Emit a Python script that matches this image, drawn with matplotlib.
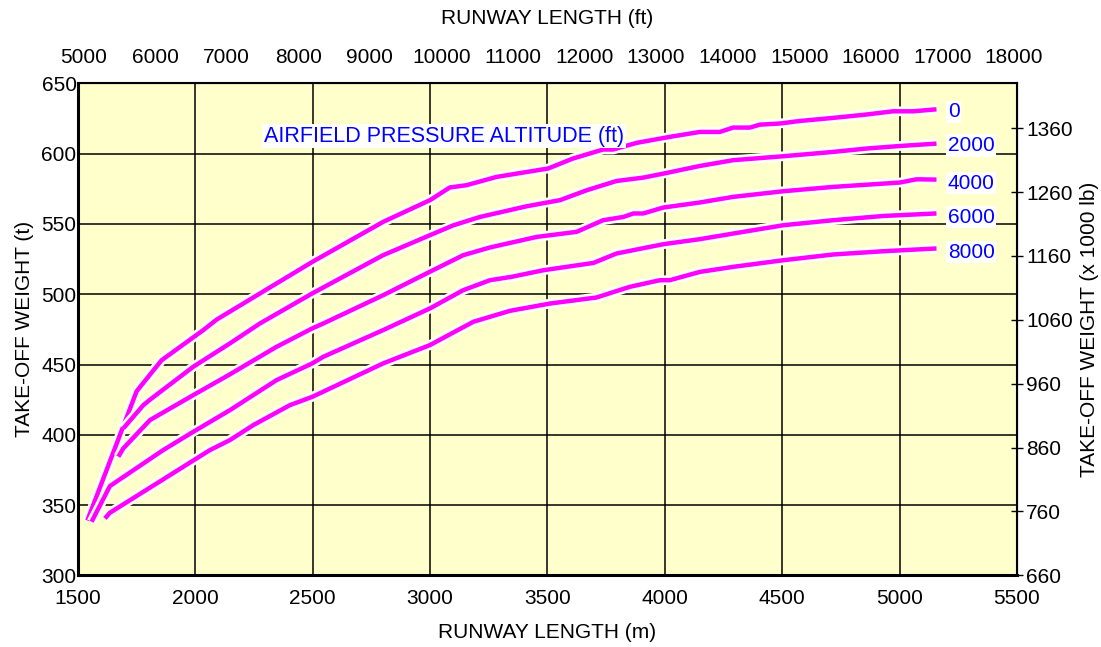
import matplotlib
matplotlib.use("Agg")
import matplotlib.pyplot as plt
import matplotlib.patheffects as pe

plt.rcParams['font.family'] = ['Liberation Sans', 'DejaVu Sans']

# airfield pressure altitude (ft) for each curve
altitudes = ["0", "2000", "4000", "6000", "8000"]

# runway length (m) / take-off weight (t)
len_0 = [1540, 1750, 1856, 2034, 2091, 2498, 2800, 3000, 3084, 3155, 3283, 3503, 3609,
         3737, 3780, 3879, 4021, 4149, 4234, 4291, 4362, 4405, 4490, 4575, 4717, 4859,
         4972, 5058, 5157]
wt_0 = [339, 431, 453, 474.5, 482, 523, 551.5, 567, 576, 577.6, 583.5, 589.5, 596.6,
        603, 603, 607.7, 612, 615.5, 615.5, 618.6, 618.6, 620.7, 621.5, 623.3, 625.5, 627.9,
        630.2, 630.2, 631.6]

len_2000 = [1693, 1778, 1807, 1991, 2147, 2275, 2498, 2800, 2999, 3098, 3212, 3411, 3554,
            3667, 3794, 3908, 4007, 4149, 4291, 4504, 4717, 4859, 5001, 5157]
wt_2000 = [404.5, 421, 425, 448.4, 465, 479.2, 500.6, 527.8, 542, 549, 555, 562.6, 567,
           574, 580.6, 583, 586.3, 591.3, 595.4, 598.2, 601.3, 603.7, 605.5, 607.2]

len_4000 = [1672, 1693, 1807, 1991, 2147, 2346, 2498, 2545, 2800, 2999, 3141, 3255, 3454,
            3624, 3737, 3823, 3866, 3908, 3993, 4149, 4291, 4504, 4717, 5001, 5072, 5157]
wt_4000 = [384.4, 390.3, 410.5, 428.2, 443, 462.6, 475.7, 479.2, 499.3, 516, 527.8, 533.3, 540.8,
           544.4, 552.7, 555, 557.5, 557.5, 561.7, 565.3, 569.3, 573.3, 576.4, 579.5, 581.8, 581.6]

len_6000 = [1558, 1636, 1863, 1991, 2147, 2346, 2498, 2545, 2800, 2999, 3141, 3255, 3347,
            3483, 3696, 3794, 3993, 4149, 4291, 4504, 4717, 4930, 5157]
wt_6000 = [338.1, 363.5, 389.1, 402.1, 417.5, 438.9, 450.8, 455.5, 474.5, 489.9, 502.9, 510, 512.4,
           517.1, 522.3, 529, 535.6, 539.2, 543.2, 549.1, 552.7, 555.7, 557.5]

len_8000 = [1615, 1636, 2062, 2147, 2247, 2403, 2498, 2800, 2999, 3184, 3340, 3511, 3709,
            3851, 3979, 4021, 4149, 4291, 4504, 4717, 4930, 5157]
wt_8000 = [340.5, 344.5, 389.1, 396.2, 406.9, 421.1, 427, 450.8, 463.8, 480.4, 488.2, 493.4, 497.7,
           505.3, 510, 510, 515.9, 519.5, 524.2, 528.3, 530.6, 532.6]

# label y-positions (t) at the right end of each curve
label_wt = [629.7, 605.8, 579, 554.9, 530]

M_TO_FT = 3.28084
T_TO_KLB = 2.2

fig = plt.figure(figsize=(11.01, 6.47), dpi=100)
ax = fig.add_axes([0.0708, 0.1108, 0.8529, 0.7602])
ax.set_facecolor("#FFFFCC")

FS = 15
series = [(len_0, wt_0), (len_2000, wt_2000), (len_4000, wt_4000),
          (len_6000, wt_6000), (len_8000, wt_8000)]
for (xs, ys), alt, ly in zip(series, altitudes, label_wt):
    ax.plot(xs, ys, color="#FF00FF", linewidth=3.2, solid_capstyle="butt", zorder=3,
            path_effects=[pe.Stroke(linewidth=7, foreground="white"), pe.Normal()])
    ax.text(5205, ly, alt, color="#0000FF", fontsize=FS, ha="left", va="center", zorder=4,
            bbox=dict(facecolor="white", edgecolor="none", pad=1.2))

ax.text(2292, 612.6, "AIRFIELD PRESSURE ALTITUDE (ft)", color="#0000FF", fontsize=15.5,
        ha="left", va="center", zorder=4,
        bbox=dict(facecolor="white", edgecolor="none", pad=1.2))

ax.set_xlim(1500, 5500)
ax.set_ylim(300, 650)
ax.set_xticks(range(1500, 5501, 500))
ax.set_yticks(range(300, 651, 50))
ax.grid(True, color="black", linewidth=1.1, zorder=1)
ax.set_axisbelow(True)
ax.tick_params(axis="x", length=0, labelsize=FS, pad=10)
ax.tick_params(axis="y", length=0, labelsize=FS, pad=1)
for side in ["left", "bottom"]:
    ax.spines[side].set_linewidth(2.2)
for side in ["right", "top"]:
    ax.spines[side].set_linewidth(1.5)

ax.set_xlabel("RUNWAY LENGTH (m)", fontsize=FS, labelpad=11)
ax.set_ylabel("TAKE-OFF WEIGHT (t)", fontsize=FS, labelpad=5)

top = ax.secondary_xaxis("top", functions=(lambda m: m * M_TO_FT, lambda f: f / M_TO_FT))
top.set_xticks(range(5000, 18001, 1000))
top.tick_params(length=0, labelsize=FS, pad=12)
top.set_xlabel("RUNWAY LENGTH (ft)", fontsize=FS, labelpad=17)

right = ax.secondary_yaxis("right", functions=(lambda t: t * T_TO_KLB, lambda k: k / T_TO_KLB))
right.set_yticks(range(660, 1361, 100))
right.tick_params(direction="inout", length=9, width=1, labelsize=FS, pad=2)
right.set_ylabel("TAKE-OFF WEIGHT (x 1000 lb)", fontsize=FS, labelpad=5)

fig.savefig("out.png", dpi=100, facecolor="white")
